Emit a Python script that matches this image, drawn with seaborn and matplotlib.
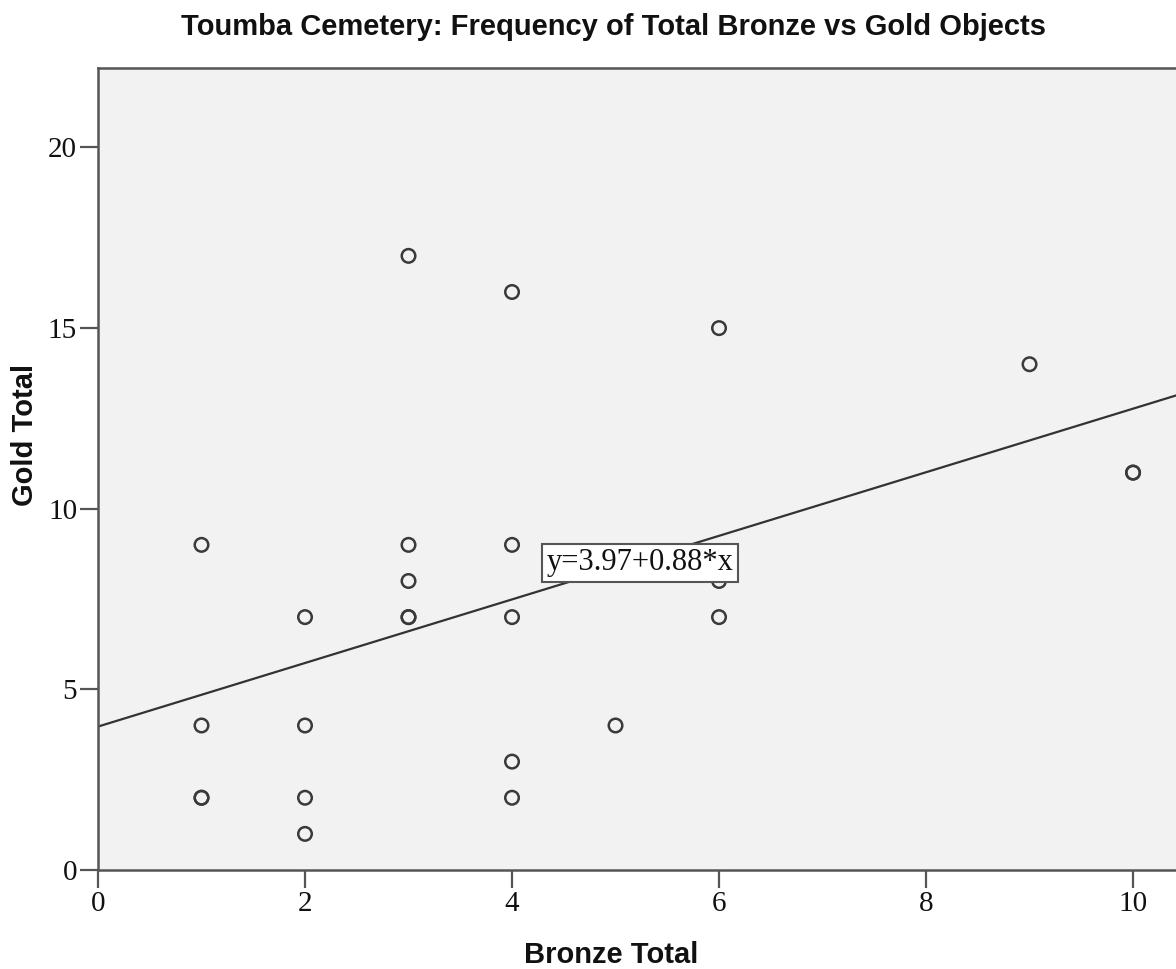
import matplotlib
matplotlib.use("Agg")
import matplotlib.pyplot as plt
import seaborn as sns
import pandas as pd

# Data
bronze_total = [1, 1, 1, 1, 2, 2, 2, 2, 3, 3, 3, 3, 3, 4, 4, 4, 4, 4, 5, 6, 6, 6, 9, 10, 10]
gold_total = [9, 4, 2, 2, 7, 4, 2, 1, 17, 9, 8, 7, 7, 16, 9, 7, 3, 2, 4, 15, 8, 7, 14, 11, 11]
fit_intercept = 3.97
fit_slope = 0.88
x_ticks = [0, 2, 4, 6, 8, 10]
y_ticks = [0, 5, 10, 15, 20]

df = pd.DataFrame({"Bronze Total": bronze_total, "Gold Total": gold_total})

sns.set_style("ticks", {"axes.facecolor": "#f2f2f2"})

fig = plt.figure(figsize=(11.76, 9.69), dpi=100)
ax = fig.add_axes([98 / 1176, 99 / 969, 1 - 98 / 1176, (870 - 68) / 969])

sns.scatterplot(data=df, x="Bronze Total", y="Gold Total", ax=ax,
                marker="o", s=95, facecolors="none", edgecolor="#3a3a3a",
                linewidth=1.8, zorder=3)

ax.axline((0, fit_intercept), slope=fit_slope, color="#333333", lw=1.6, zorder=2)

ax.set_xlim(0, 10.415)
ax.set_ylim(0, 22.2)
ax.set_xticks(x_ticks)
ax.set_yticks(y_ticks)
ax.set_xticklabels([str(t) for t in x_ticks], family="Liberation Serif", fontsize=21)
ax.set_yticklabels([str(t) for t in y_ticks], family="Liberation Serif", fontsize=21)
ax.tick_params(axis="both", length=13, width=1.6, color="#555555", pad=2, labelcolor="#111111")

for side in ["left", "bottom", "top"]:
    ax.spines[side].set_color("#555555")
    ax.spines[side].set_linewidth(1.8)
ax.spines["right"].set_visible(False)

ax.set_xlabel("")
ax.set_ylabel("")

ax.text(5.24, 8.5, f"y={fit_intercept:.2f}+{fit_slope:.2f}*x", family="Liberation Serif",
        fontsize=22, ha="center", va="center", color="#111111", zorder=5,
        bbox=dict(boxstyle="square,pad=0.15", facecolor="white", edgecolor="#555555", linewidth=1.5))

fig.text(0.522, 1 - 27 / 969, "Toumba Cemetery: Frequency of Total Bronze vs Gold Objects",
         family="Liberation Sans", fontweight="bold", fontsize=21, ha="center", va="center", color="#111111")
fig.text(0.52, 1 - 955 / 969, "Bronze Total", family="Liberation Sans", fontweight="bold",
         fontsize=21, ha="center", va="center", color="#111111")
fig.text(25 / 1176, 1 - 435 / 969, "Gold Total", family="Liberation Sans", fontweight="bold",
         fontsize=21, ha="center", va="center", rotation=90, color="#111111")

fig.savefig("out.png", dpi=100)
